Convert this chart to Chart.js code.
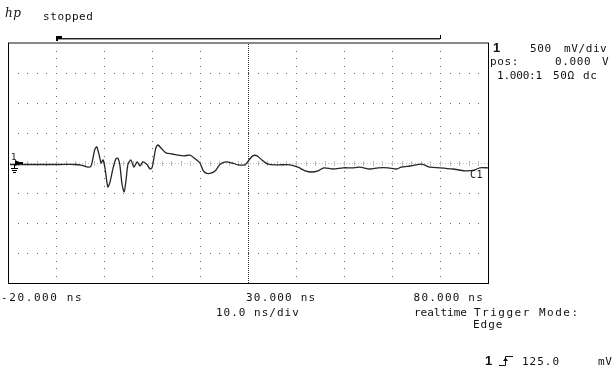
<!DOCTYPE html>
<html>
<head>
<meta charset="utf-8">
<script src="https://cdn.jsdelivr.net/npm/chart.js@4.4.1/dist/chart.umd.min.js"></script>
<style>
  html, body { margin: 0; padding: 0; background: #fff; }
  #wrap { position: relative; width: 615px; height: 372px; overflow: hidden; }
  canvas { position: absolute; left: 0; top: 0; }
  .t { position: absolute; font: 11px "DejaVu Sans Mono", monospace; line-height: 11px; color: #111; white-space: pre; letter-spacing: 0.6px; }
  .b { font-weight: bold; font-family: "Liberation Sans", sans-serif; font-size: 13px; letter-spacing: 0; }
</style>
</head>
<body>
<div id="wrap">
  <canvas id="scope" width="615" height="372"></canvas>
</div>
<script>
// time (ns) and voltage (V), 10 ns/div, 500 mV/div
const timeNs = [-19.6, -17.5, -13.3, -9.2, -6.0, -4.6, -3.3, -2.7, -2.3, -1.9, -1.5, -1.0, -0.6, -0.2, 0.2, 0.8, 1.25, 1.9, 2.5, 2.9, 3.3, 3.75, 4.2, 4.6, 5.0, 5.6, 6.25, 6.9, 7.5, 8.1, 9.0, 9.6, 10.0, 10.4, 10.8, 11.25, 12.1, 12.9, 14.2, 15.4, 16.7, 17.9, 19.0, 20.0, 20.6, 21.25, 22.3, 23.3, 24.2, 25.4, 26.7, 27.9, 29.4, 30.2, 31.0, 31.9, 32.9, 34.2, 36.25, 38.75, 40.4, 41.9, 43.3, 44.6, 45.8, 47.7, 49.8, 51.7, 53.3, 55.4, 57.1, 59.2, 61.0, 61.9, 63.75, 66.25, 67.9, 70.0, 72.7, 75.2, 77.1, 78.3, 80.0];
const voltsV = [-0.025, -0.025, -0.025, -0.025, -0.025, -0.04, -0.07, -0.05, 0.08, 0.23, 0.27, 0.13, 0.0, 0.05, -0.08, -0.40, -0.32, -0.08, 0.07, 0.08, -0.03, -0.35, -0.48, -0.28, -0.02, 0.05, -0.07, 0.02, -0.05, 0.02, -0.03, -0.10, -0.08, 0.08, 0.25, 0.30, 0.23, 0.17, 0.15, 0.13, 0.12, 0.13, 0.07, 0.0, -0.12, -0.17, -0.17, -0.12, -0.02, 0.02, 0.0, -0.03, -0.03, 0.05, 0.12, 0.12, 0.05, -0.02, -0.03, -0.03, -0.07, -0.13, -0.15, -0.13, -0.08, -0.10, -0.08, -0.08, -0.07, -0.10, -0.08, -0.08, -0.10, -0.07, -0.05, -0.02, -0.07, -0.08, -0.10, -0.13, -0.12, -0.08, -0.08];

const xTickValues = [-20, 30, 80];
const xTickLabels = ['-20.000 ns', '30.000 ns', '80.000 ns'];
const timeRange = [-20, 80];   // ns, 10 div
const voltRange = [-2, 2];     // V, 8 div
const windowNs = [-10, 70];    // memory bar at the top

const points = timeNs.map((t, i) => ({ x: t, y: voltsV[i] }));

const screenPlugin = {
  id: 'screen',
  beforeDatasetsDraw(chart) {
    const ctx = chart.ctx, xs = chart.scales.x, ys = chart.scales.y;
    const { left, right, top, bottom } = chart.chartArea;
    ctx.save();
    ctx.fillStyle = '#666';
    // dotted horizontal divisions
    for (let v = -1.5; v <= 1.5; v += 0.5) {
      if (v === 0) continue;
      const py = Math.round(ys.getPixelForValue(v));
      for (let t = -18; t < 80; t += 2) {
        ctx.fillRect(Math.round(xs.getPixelForValue(t)), py, 1, 1);
      }
    }
    // dotted vertical divisions
    for (let t = -10; t < 80; t += 10) {
      if (t === 30) continue;
      const px = Math.round(xs.getPixelForValue(t));
      for (let v = -2; v <= 2; v += 0.125) {
        ctx.fillRect(px, Math.round(ys.getPixelForValue(v)), 1, 1);
      }
    }
    // centre vertical (trigger) line, dense dots
    ctx.fillStyle = '#333';
    const cx = Math.round(xs.getPixelForValue(30));
    for (let py = top + 1; py < bottom; py += 2) ctx.fillRect(cx, py, 1, 1);
    // centre horizontal axis with minor ticks
    const cy = Math.round(ys.getPixelForValue(0));
    ctx.fillStyle = '#bbb';
    for (let px = left + 2; px < right; px += 3) ctx.fillRect(px, cy, 1, 1);
    for (let t = -18; t < 80; t += 2) {
      const px = Math.round(xs.getPixelForValue(t));
      ctx.fillRect(px, cy - 2, 1, 5);
    }
    ctx.restore();
  },
  afterDraw(chart) {
    const ctx = chart.ctx, xs = chart.scales.x, ys = chart.scales.y;
    const { left, right, top, bottom } = chart.chartArea;
    ctx.save();
    // frame
    ctx.fillStyle = '#888';
    ctx.fillRect(left, top - 1, right - left + 1, 2);
    ctx.fillStyle = '#000';
    ctx.fillRect(left, top, 1, bottom - top + 1);
    ctx.fillRect(right, top, 1, bottom - top + 1);
    ctx.fillRect(left, bottom, right - left + 1, 1);
    // memory window bar
    const wx0 = Math.round(xs.getPixelForValue(windowNs[0]));
    const wx1 = Math.round(xs.getPixelForValue(windowNs[1]));
    ctx.fillStyle = '#222';
    ctx.fillRect(wx0, top - 5, wx1 - wx0, 1);
    ctx.fillStyle = '#999';
    ctx.fillRect(wx0, top - 4, wx1 - wx0, 1);
    ctx.fillStyle = '#000';
    ctx.fillRect(wx0, top - 7, 6, 3);
    ctx.fillRect(wx0, top - 7, 2, 5);
    ctx.fillRect(wx1, top - 8, 1, 4);
    // channel 1 ground marker
    const gy = Math.round(ys.getPixelForValue(0));
    ctx.beginPath();
    ctx.moveTo(left + 7, gy - 3);
    ctx.lineTo(left + 13, gy);
    ctx.lineTo(left + 7, gy + 3);
    ctx.closePath();
    ctx.fill();
    ctx.fillRect(left + 7, gy - 1, 8, 2);
    ctx.fillRect(left + 6, gy + 1, 1, 5);
    ctx.fillRect(left + 3, gy + 5, 7, 1);
    ctx.fillRect(left + 4, gy + 7, 5, 1);
    ctx.fillRect(left + 5, gy + 9, 3, 1);
    ctx.restore();
  }
};

new Chart(document.getElementById('scope'), {
  type: 'line',
  data: {
    datasets: [{
      data: points,
      borderColor: '#262626',
      borderWidth: 1.3,
      pointRadius: 0,
      tension: 0.25,
      fill: false
    }]
  },
  options: {
    responsive: false,
    animation: false,
    layout: { padding: { left: 8, top: 43, right: 127, bottom: 89 } },
    plugins: { legend: { display: false }, tooltip: { enabled: false } },
    scales: {
      x: { type: 'linear', min: timeRange[0], max: timeRange[1], display: false },
      y: { min: voltRange[0], max: voltRange[1], display: false }
    }
  },
  plugins: [screenPlugin]
});

// text on the screen
const wrap = document.getElementById('wrap');
function label(txt, x, y, cls, align) {
  const d = document.createElement('div');
  d.className = 't' + (cls ? ' ' + cls : '');
  d.textContent = txt;
  d.style.top = y + 'px';
  if (align === 'right') d.style.right = (615 - x) + 'px';
  else d.style.left = x + 'px';
  wrap.appendChild(d);
  return d;
}
const hp = label('hp', 5, 8);
hp.style.fontFamily = '"DejaVu Serif", serif';
hp.style.fontStyle = 'italic';
hp.style.fontSize = '12px';
label('stopped', 43, 11);

label('1', 493, 42, 'b');
label('500', 530, 43);
label('mV/div', 564, 43);
label('pos:', 490, 56);
label('0.000', 555, 56);
label('V', 602, 56);
label('1.000:1', 497, 70).style.letterSpacing = '-0.2px';
label('50Ω', 553, 70);
label('dc', 583, 70);

// time-axis labels at -20, 30, 80 ns
const tickX = [1, 246, 484];
const tickSpacing = ['1.6px', '1.2px', '1.2px'];
xTickLabels.forEach((s, i) => {
  const el = label(s, tickX[i], 292, '', i === 2 ? 'right' : 'left');
  el.style.letterSpacing = tickSpacing[i];
});
label('10.0 ns/div', 216, 307).style.letterSpacing = '1px';
label('realtime', 414, 307).style.letterSpacing = '0';
label('Trigger Mode:', 474, 307).style.letterSpacing = '1.5px';
label('Edge', 473, 319).style.letterSpacing = '1px';

label('1', 485, 355, 'b');
label('125.0', 522, 356).style.letterSpacing = '1px';
label('mV', 598, 356);

const c1 = label('C1', 470, 169);
c1.style.fontSize = '10px';
const one = label('1', 11, 152);
one.style.fontSize = '9px';

// trigger edge symbol
const svgNS = 'http://www.w3.org/2000/svg';
const svg = document.createElementNS(svgNS, 'svg');
svg.setAttribute('width', '16');
svg.setAttribute('height', '12');
svg.style.position = 'absolute';
svg.style.left = '499px';
svg.style.top = '355px';
svg.innerHTML = '<polyline points="0,10.5 6.5,10.5 6.5,1.5 14,1.5" fill="none" stroke="#111" stroke-width="1"/>' +
  '<polygon points="4,6 6.5,2.5 9,6" fill="#111"/>';
wrap.appendChild(svg);
</script>
</body>
</html>
